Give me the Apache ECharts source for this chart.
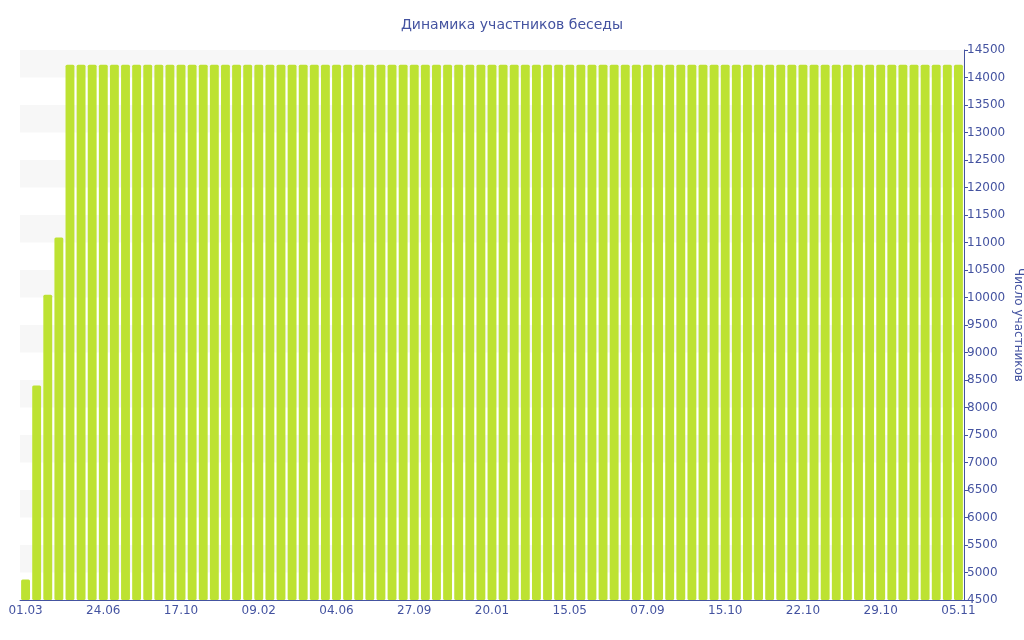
<!DOCTYPE html>
<html>
<head>
<meta charset="utf-8">
<title>Динамика участников беседы</title>
<script src="https://cdn.jsdelivr.net/npm/echarts@6/dist/echarts.min.js"></script>
<style>
html, body { margin: 0; padding: 0; background: #fff; }
#chart { width: 1024px; height: 640px; }
</style>
</head>
<body>
<div id="chart"></div>
<script>
// даты (подписи оси X), видна каждая 7-я
const dates = [
  '01.03','17.03','03.04','19.04','06.05','22.05','07.06',
  '24.06','10.07','27.07','12.08','29.08','14.09','30.09',
  '17.10','02.11','19.11','05.12','22.12','07.01','23.01',
  '09.02','25.02','14.03','30.03','16.04','02.05','18.05',
  '04.06','20.06','07.07','23.07','09.08','25.08','10.09',
  '27.09','13.10','30.10','15.11','02.12','18.12','03.01',
  '20.01','05.02','22.02','10.03','27.03','12.04','28.04',
  '15.05','31.05','17.06','03.07','20.07','05.08','21.08',
  '07.09','12.09','17.09','23.09','29.09','04.10','09.10',
  '15.10','16.10','17.10','18.10','19.10','20.10','21.10',
  '22.10','23.10','24.10','25.10','26.10','27.10','28.10',
  '29.10','30.10','31.10','01.11','02.11','03.11','04.11',
  '05.11'
]
// число участников
const members = [
  4875, 8400, 10050, 11090,
  14230, 14230, 14230, 14230, 14230, 14230, 14230, 14230, 14230, 14230,
  14230, 14230, 14230, 14230, 14230, 14230, 14230, 14230, 14230, 14230,
  14230, 14230, 14230, 14230, 14230, 14230, 14230, 14230, 14230, 14230,
  14230, 14230, 14230, 14230, 14230, 14230, 14230, 14230, 14230, 14230,
  14230, 14230, 14230, 14230, 14230, 14230, 14230, 14230, 14230, 14230,
  14230, 14230, 14230, 14230, 14230, 14230, 14230, 14230, 14230, 14230,
  14230, 14230, 14230, 14230, 14230, 14230, 14230, 14230, 14230, 14230,
  14230, 14230, 14230, 14230, 14230, 14230, 14230, 14230, 14230, 14230,
  14230
]

const textColor = '#4453a0'
const fontFamily = 'DejaVu Sans'

let chart = echarts.init(document.getElementById('chart'))
chart.setOption({
  animation: false,
  title: {
    text: 'Динамика участников беседы',
    left: 'center',
    top: 13,
    textStyle: { color: textColor, fontSize: 14, fontWeight: 'normal', fontFamily: fontFamily }
  },
  tooltip: { trigger: 'axis' },
  grid: { left: 20, right: 60, top: 50, bottom: 40, containLabel: false, outerBoundsMode: 'none' },
  xAxis: {
    type: 'category',
    data: dates,
    axisLine: { lineStyle: { color: textColor } },
    axisTick: { interval: 6, alignWithLabel: true, length: 4 },
    axisLabel: { interval: 6, color: textColor, fontSize: 12, fontFamily: fontFamily, margin: 5 }
  },
  yAxis: {
    type: 'value',
    position: 'right',
    min: 4500,
    max: 14500,
    interval: 500,
    name: 'Число участников',
    nameLocation: 'middle',
    nameRotate: -90,
    nameGap: 48,
    nameMoveOverlap: false,
    nameTextStyle: { color: textColor, fontSize: 12, fontFamily: fontFamily },
    axisLine: { show: true, lineStyle: { color: textColor } },
    axisTick: { show: true, length: 4 },
    axisLabel: { color: textColor, fontSize: 12, fontFamily: fontFamily, margin: 3, formatter: v => String(v) },
    splitLine: { show: false },
    splitArea: { show: true, areaStyle: { color: ['#ffffff', '#f7f7f7'] } }
  },
  series: [{
    name: 'Число участников',
    type: 'bar',
    data: members,
    barCategoryGap: '20%',
    itemStyle: { color: '#bde232', borderRadius: 1.5 }
  }]
})
</script>
</body>
</html>
